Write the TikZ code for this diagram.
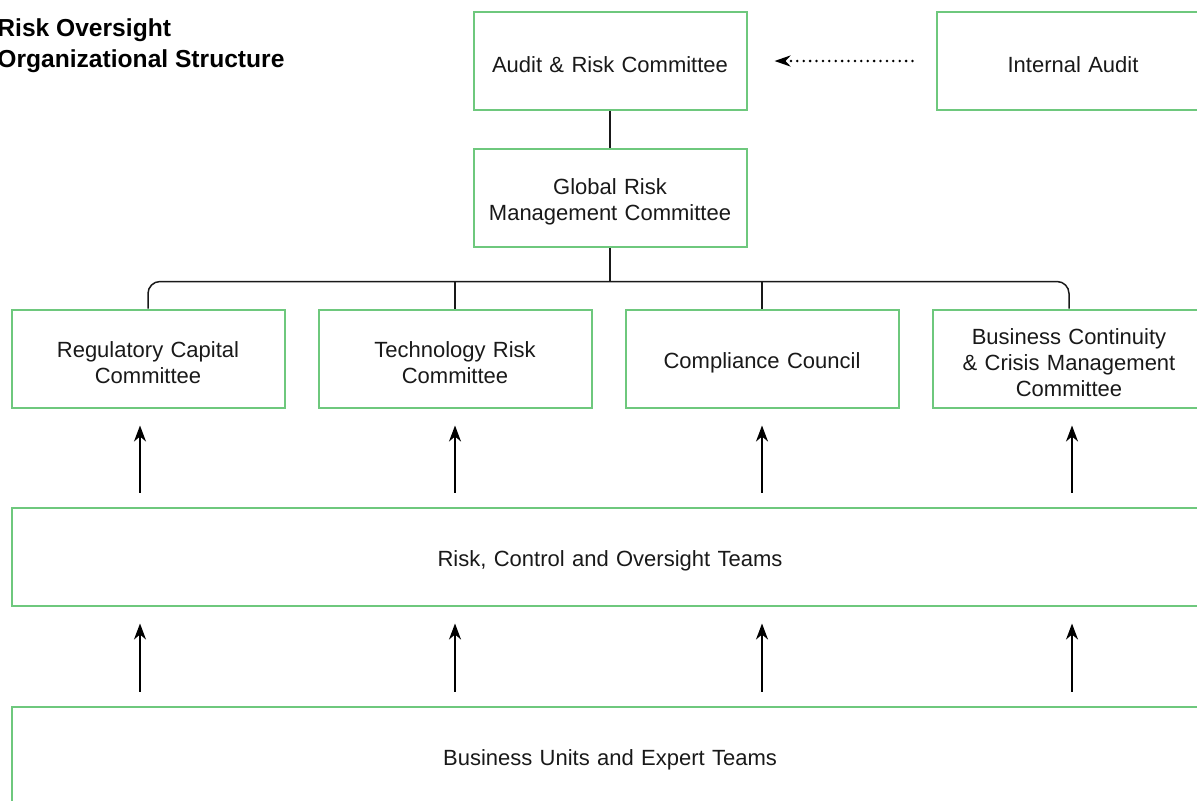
\documentclass[tikz,border=0pt]{standalone}
\usepackage{fontspec}
\setmainfont{Liberation Sans}
\usepackage{tikz}
\usetikzlibrary{positioning, arrows.meta, calc}
\definecolor{boxgreen}{RGB}{110,200,125}
\definecolor{inkgray}{RGB}{25,25,25}

\begin{document}
\begin{tikzpicture}[
    x=0.5pt, y=-0.5pt,
    box/.style={draw=boxgreen, line width=1pt, rectangle, minimum width=136.5pt, minimum height=49pt, text width=128pt, align=center, text=inkgray, font=\fontsize{11}{12.8}\selectfont, text height=12pt},
    widebox/.style={box, minimum width=598pt, text width=400pt},
    title/.style={anchor=north west, inner sep=0pt, align=left, text=black, font=\fontsize{12.3}{15.5}\selectfont\bfseries},
    link/.style={draw=inkgray, line width=0.75pt},
    uparrow/.style={-{Stealth[length=8pt, width=6pt, inset=2.5pt]}, draw=black, line width=0.75pt},
    dotarrow/.style={-{Stealth[length=8pt, width=5.5pt, inset=2.5pt]}, draw=black, line width=1.4pt, line cap=round, dash pattern=on 0pt off 3.2pt}
]
\useasboundingbox (0,0) rectangle (1197,800);

\node[title] (title) at (-3,18) {Risk Oversight\\Organizational Structure};

\node[box] (audit) at (610,61) {Audit \& Risk Committee};
\node[box, right=94pt of audit] (internal) {Internal Audit};
\node[box, below=18.5pt of audit] (global) {Global Risk\\Management Committee};

\node[box] (regcap) at (148,358.5) {Regulatory Capital\\Committee};
\node[box, right=16pt of regcap] (techrisk) {Technology Risk\\Committee};
\node[box, right=16pt of techrisk] (compliance) {Compliance Council};
\node[box, right=16pt of compliance] (bcm) {Business Continuity\\\& Crisis Management\\Committee};

\node[widebox] (rcot) at (610,556.5) {Risk, Control and Oversight Teams};
\node[widebox] (units) at (610,755.5) {Business Units and Expert Teams};

% reporting lines
\draw[dotarrow] ([xshift=-11.5pt]internal.west) -- ([xshift=13.5pt]audit.east);
\draw[link] (audit) -- (global);
\coordinate (bar) at ([yshift=13.5pt]regcap.north);
\draw[link, rounded corners=6pt] (regcap.north) -- (bar) -| (bcm.north);
\draw[link] (global) -- (global |- bar);
\draw[link] (techrisk.north) -- (techrisk |- bar);
\draw[link] (compliance.north) -- (compliance |- bar);

% upward flows
\foreach \n/\dx in {regcap/-4pt, techrisk/0pt, compliance/0pt, bcm/1.5pt} {
    \draw[uparrow] ([xshift=\dx, yshift=7pt]rcot.north -| \n) -- ([xshift=\dx, yshift=-8.5pt]\n.south);
    \draw[uparrow] ([xshift=\dx, yshift=7pt]units.north -| \n) -- ([xshift=\dx, yshift=-8.5pt]rcot.south -| \n);
}
\end{tikzpicture}
\end{document}
